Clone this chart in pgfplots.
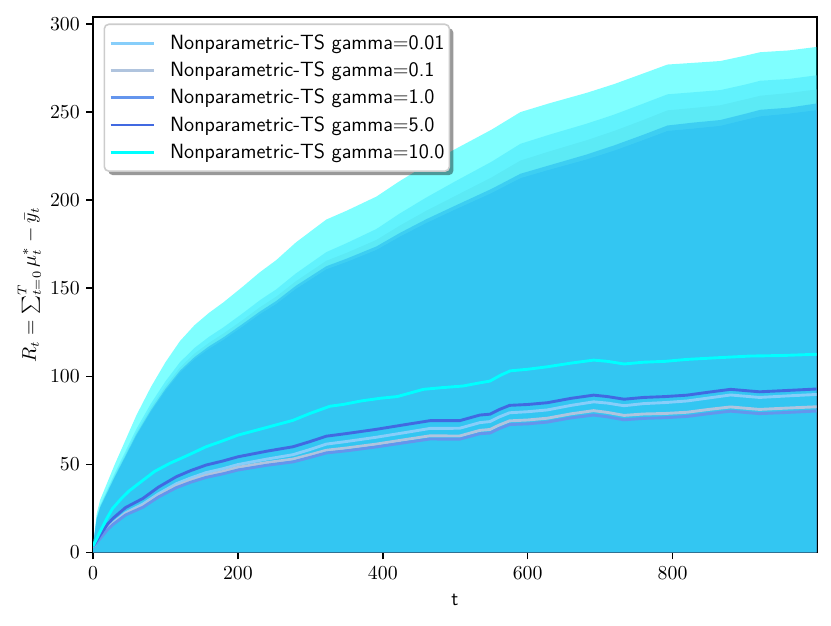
\documentclass[border=0pt]{standalone}
\usepackage{pgfplots}
\pgfplotsset{compat=1.18}
\usetikzlibrary{shadows}
\definecolor{cskyblue}{RGB}{135,206,250}
\definecolor{csteel}{RGB}{176,196,222}
\definecolor{ccorn}{RGB}{100,149,237}
\definecolor{croyal}{RGB}{65,105,225}
\definecolor{ccyan}{RGB}{0,255,255}
\begin{document}
\begin{tikzpicture}
\begin{axis}[
  scale only axis, width=400.6pt, height=296.4pt,
  xmin=0, xmax=999, ymin=0, ymax=304,
  axis line style={line width=0.88pt},
  tick align=outside, xtick pos=bottom, ytick pos=left,
  major tick length=3.85pt, tick style={line width=0.88pt, black},
  xtick={0,200,400,600,800}, ytick={0,50,100,150,200,250,300},
  tick label style={font=\fontsize{11}{13}\selectfont},
  xticklabel style={yshift=-0.8pt},
  xlabel={\textsf{t}},
  ylabel={$R_t = \sum_{t=0}^{T}\mu_t^* - \bar{y}_t$},
  xlabel style={font=\fontsize{11}{13}\selectfont, at={(axis description cs:0.5,0)}, anchor=center, yshift=-26.3pt},
  ylabel style={font=\fontsize{10.5}{12.5}\selectfont, at={(axis description cs:-0.088,0.5)}, anchor=center},
  legend cell align=left,
  legend image code/.code={\begin{scope}[#1]\pgfpathmoveto{\pgfpointorigin}\pgfpathlineto{\pgfpoint{23.8pt}{0pt}}\pgfusepath{stroke}\end{scope}},
  legend style={at={(axis description cs:0,1)}, anchor=north west, xshift=5.8pt, yshift=-3.6pt,
    draw=black!20, line width=0.88pt, rounded corners=2.5pt, fill=white,
    drop shadow={shadow xshift=2.2pt, shadow yshift=-2.2pt, fill=black, opacity=0.4},
    inner xsep=2.7pt, inner ysep=2.9pt,
    font=\sffamily\fontsize{11.4}{13}\selectfont, row sep=0pt,
    nodes={inner sep=0pt, minimum height=15.1pt, anchor=west},
    /tikz/every odd column/.style={column sep=8.3pt}},
]
% ---- bands (upper bounds; lower bounds fall below 0) ----
\addplot[draw=none, fill=cskyblue, fill opacity=0.5, forget plot] coordinates {
(0,4) (5,19.8) (10,27) (20,36) (30,45) (45,57.6) (60,70.2) (80,84.6) (100,97.2) (120,108) (140,116.1) (160,122.4) (180,127.8) (207,135.9) (230,143.1) (253,149.4) (280,158.4) (322,170.5) (350,175.6) (391,183.6) (424,192.6) (460,201.5) (500,210.7) (550,221.8) (590,232) (630,237.2) (682,243.5) (720,248.7) (760,254.9) (793,260.1) (830,261.3) (866,262.5) (900,265.6) (921,267.8) (960,268.8) (999,270.9)
} \closedcycle;
\addplot[draw=none, fill=csteel, fill opacity=0.5, forget plot] coordinates {
(0,3.5) (5,19.3) (10,26.3) (20,35) (30,43.8) (45,56) (60,68.3) (80,82.3) (100,94.5) (120,105) (140,112.9) (160,119) (180,124.3) (207,132.1) (230,139.1) (253,145.3) (280,154) (322,165.6) (350,170.1) (391,177.4) (424,185.7) (460,194) (500,202.4) (550,212.9) (590,222.5) (630,227.7) (682,234.1) (720,239.4) (760,245.6) (793,251) (830,252.4) (866,253.9) (900,257.2) (921,259.3) (960,260.8) (999,262.9)
} \closedcycle;
\addplot[draw=none, fill=ccorn, fill opacity=0.5, forget plot] coordinates {
(0,3.4) (5,18.7) (10,25.5) (20,34) (30,42.5) (45,54.4) (60,66.3) (80,79.9) (100,91.8) (120,102) (140,109.7) (160,115.6) (180,120.7) (207,128.4) (230,135.2) (253,141.1) (280,149.6) (322,160.7) (350,164.9) (391,171.7) (424,179.4) (460,187) (500,194.7) (550,204) (590,212.5) (630,217.3) (682,223.2) (720,228.2) (760,234.2) (793,239.3) (830,240.7) (866,242.2) (900,245.6) (921,247.6) (960,249.1) (999,251.1)
} \closedcycle;
\addplot[draw=none, fill=croyal, fill opacity=0.5, forget plot] coordinates {
(0,3.4) (5,18.9) (10,25.8) (20,34.4) (30,43) (45,55) (60,67.1) (80,80.8) (100,92.9) (120,103.2) (140,110.9) (160,117) (180,122.1) (207,129.9) (230,136.7) (253,142.8) (280,151.4) (322,162.5) (350,166.8) (391,173.7) (424,181.5) (460,189.2) (500,196.9) (550,206.4) (590,215) (630,219.8) (682,226) (720,231.2) (760,237.2) (793,242.4) (830,244.1) (866,245.5) (900,249) (921,251.3) (960,252.5) (999,254.9)
} \closedcycle;
\addplot[draw=none, fill=ccyan, fill opacity=0.5, forget plot] coordinates {
(0,4) (5,22) (10,30) (20,40) (30,50) (45,64) (60,78) (80,94) (100,108) (120,120) (140,129) (160,136) (180,142) (207,151) (230,159) (253,166) (280,176) (322,189) (350,194) (391,202) (424,211) (460,220) (500,229) (550,240) (590,250) (630,255) (682,261) (720,266) (760,272) (793,277) (830,278) (866,279) (900,282) (921,284) (960,285) (999,287)
} \closedcycle;
% ---- means ----
\addplot[cskyblue, line width=1.6pt] coordinates {
(0,3) (10,8.5) (20,14) (27.6,16.8) (45,22.5) (69,27.5) (90,33.2) (115,39) (135,42.3) (156,45.3) (180,47.6) (200,49.9) (240,53) (276,55.5) (300,58.5) (322,61.5) (350,63) (391,65.4) (430,68) (465,70.4) (506,70.5) (534,73.7) (548,74.3) (560,76.8) (575,79.3) (600,79.9) (627,80.9) (660,83.5) (691,85.5) (710,84.8) (733,83.3) (760,84.5) (790,85.1) (820,86) (850,87.7) (880,89.4) (920,88) (960,88.9) (999,89.7)
};
\addlegendentry{Nonparametric-TS gamma=0.01\hspace{1.6pt}}
\addplot[csteel, line width=1.6pt] coordinates {
(0,3) (10,8.5) (20,13.5) (27.6,16.4) (45,22) (69,26.5) (90,32.2) (115,37.8) (135,41) (156,43.8) (180,46) (200,48.3) (240,51) (276,53) (300,55.5) (322,58) (350,59.3) (391,61.5) (430,64) (465,66.2) (506,66.1) (534,69.3) (548,69.8) (560,72.2) (575,74.7) (600,75.2) (627,76.2) (660,78.7) (691,80.5) (710,79.5) (733,77.8) (760,78.6) (790,78.9) (820,79.6) (850,81.2) (880,82.6) (920,81.2) (960,82) (999,82.7)
};
\addlegendentry{Nonparametric-TS gamma=0.1}
\addplot[ccorn, line width=1.6pt] coordinates {
(0,3) (10,8) (20,13) (27.6,15.9) (45,21.3) (69,25.7) (90,31.4) (115,36.8) (135,39.9) (156,42.6) (180,44.7) (200,46.8) (240,49.5) (276,51.4) (300,54) (322,56.5) (350,57.7) (391,59.9) (430,62.3) (465,64.4) (506,64.3) (534,67.4) (548,67.8) (560,70.2) (575,72.6) (600,73) (627,74) (660,76.4) (691,78) (710,77) (733,75.3) (760,76.1) (790,76.5) (820,77.2) (850,78.8) (880,80.2) (920,78.8) (960,79.5) (999,80.3)
};
\addlegendentry{Nonparametric-TS gamma=1.0}
\addplot[croyal, line width=1.6pt] coordinates {
(0,3.5) (10,10) (20,16) (27.6,19.4) (45,25.5) (69,30.7) (90,37) (115,43) (135,46.5) (156,49.6) (180,52) (200,54.3) (240,57.5) (276,60) (300,63) (322,66) (350,67.5) (391,69.9) (430,72.5) (465,74.8) (506,74.8) (534,78) (548,78.5) (560,81) (575,83.5) (600,84) (627,85) (660,87.5) (691,89.3) (710,88.5) (733,87) (760,88) (790,88.5) (820,89.3) (850,91) (880,92.6) (920,91.2) (960,92) (999,92.8)
};
\addlegendentry{Nonparametric-TS gamma=5.0}
\addplot[ccyan, line width=1.6pt] coordinates {
(0,3.5) (10,12) (20,20) (27,25) (40,31) (50,35) (69,41) (85,46) (106,50.6) (130,55) (156,60) (180,63.5) (200,66.6) (240,71) (276,75) (300,79) (327,83) (345,84) (370,86) (396,87.5) (420,88.5) (456,92.6) (480,93.5) (511,94.5) (530,96) (548,97.3) (562,100.5) (576,103.1) (600,104) (627,105.4) (660,107.5) (691,109.2) (710,108.5) (733,107) (760,108) (790,108.5) (820,109.6) (860,110.5) (907,111.5) (950,111.8) (999,112.5)
};
\addlegendentry{Nonparametric-TS gamma=10.0}
\end{axis}
\path ([shift={(-51.5pt,-40.7pt)}]current axis.south west) rectangle ([shift={(7.9pt,9.4pt)}]current axis.north east);
\end{tikzpicture}
\end{document}
